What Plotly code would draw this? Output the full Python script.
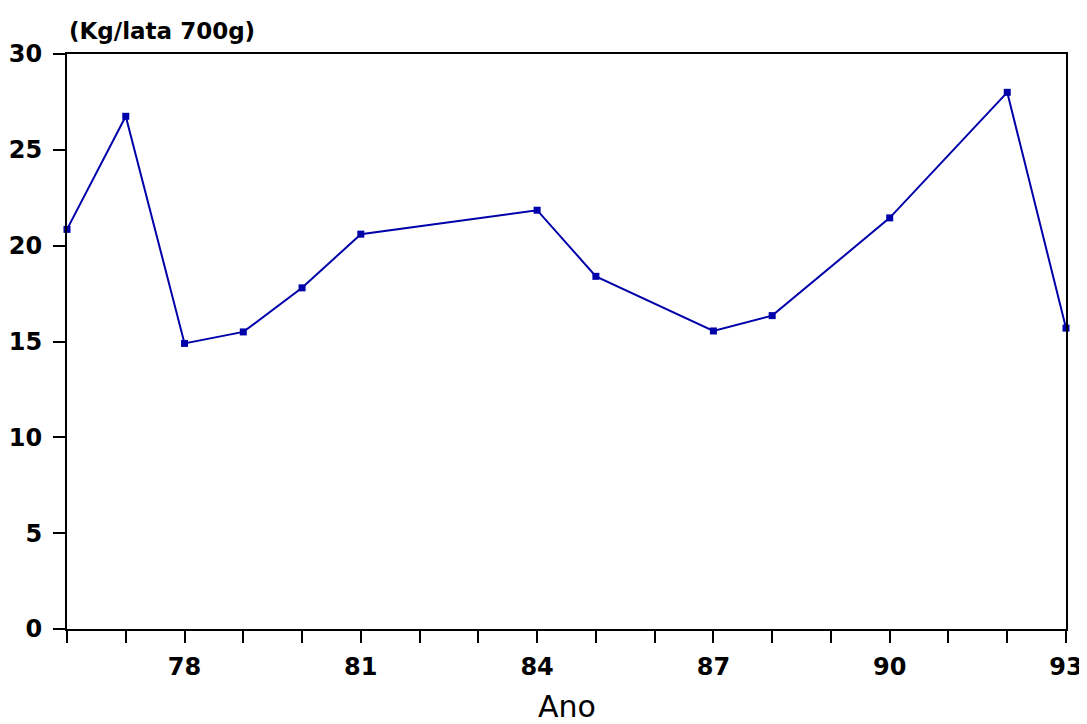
import plotly.graph_objects as go

years = [76, 77, 78, 79, 80, 81, 84, 85, 87, 88, 90, 92, 93]
values = [20.85, 26.75, 14.9, 15.5, 17.8, 20.6, 21.85, 18.4, 15.55, 16.35, 21.45, 28.0, 15.7]

x_tick_vals = list(range(76, 94))
x_tick_text = ["", "", "78", "", "", "81", "", "", "84", "", "", "87", "", "", "90", "", "", "93"]
y_tick_vals = [0, 5, 10, 15, 20, 25, 30]

fig = go.Figure()
fig.add_trace(go.Scatter(
    x=years, y=values, mode="lines+markers",
    line=dict(color="#0000AA", width=2),
    marker=dict(symbol="square", size=7, color="#0000AA"),
    cliponaxis=False,
))

font_tick = dict(family="DejaVu Sans", size=24, color="black", weight="bold")

fig.update_layout(
    width=1079, height=716,
    margin=dict(l=59, r=21, t=46, b=95),
    plot_bgcolor="white", paper_bgcolor="white",
    showlegend=False,
    xaxis=dict(
        range=[76, 93], tickvals=x_tick_vals, ticktext=x_tick_text,
        ticks="outside", ticklen=12, tickwidth=2, tickcolor="black",
        showline=True, linewidth=2, linecolor="black", mirror=True,
        showgrid=False, zeroline=False, tickfont=font_tick,
        ticklabelstandoff=3, automargin=False,
    ),
    yaxis=dict(
        range=[0, 30], tickvals=y_tick_vals,
        ticks="outside", ticklen=12, tickwidth=2, tickcolor="black",
        showline=True, linewidth=2, linecolor="black", mirror=True,
        showgrid=False, zeroline=False, tickfont=font_tick,
        ticklabelstandoff=6, automargin=False,
    ),
    annotations=[
        dict(
            text="(Kg/lata 700g)", xref="paper", yref="paper", x=0, y=1,
            xanchor="left", yanchor="bottom", yshift=8, showarrow=False,
            font=dict(family="DejaVu Sans", size=23, color="black", weight="bold"),
        ),
        dict(
            text="Ano", xref="paper", yref="paper", x=0.5, y=0,
            xanchor="center", yanchor="middle", yshift=-77, showarrow=False,
            font=dict(family="DejaVu Sans", size=30, color="black"),
        ),
    ],
)

fig.write_html("out.html")
